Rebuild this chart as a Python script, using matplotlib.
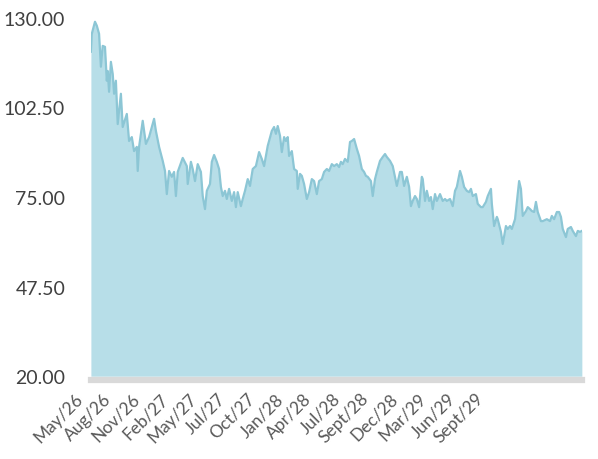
# -*- coding: utf-8 -*-

import numpy as np
import matplotlib
matplotlib.use('Agg')
import matplotlib.pyplot as plt
import matplotlib.transforms as mtransforms

# trading day index and closing value
days = [0, 2, 9, 13, 18, 22, 26, 31, 35, 37, 40, 44, 48, 51, 55, 59, 66, 70, 79, 84,
        90, 95, 101, 103, 106, 114, 121, 128, 139, 143, 150, 158, 163, 167, 172, 178, 183, 187, 191, 202,
        211, 213, 220, 224, 229, 235, 242, 246, 251, 255, 262, 266, 271, 277, 282, 286, 290, 295, 299, 304,
        310, 315, 319, 323, 330, 334, 339, 345, 350, 356, 363, 370, 376, 381, 389, 398, 403, 407, 411, 416,
        420, 425, 429, 433, 436, 442, 447, 453, 455, 460, 464, 469, 475, 480, 486, 491, 497, 502, 508, 513,
        519, 524, 530, 535, 541, 546, 550, 554, 559, 565, 570, 574, 579, 585, 590, 596, 601, 605, 609, 616,
        620, 625, 629, 636, 642, 647, 651, 658, 664, 669, 673, 680, 684, 689, 695, 700, 704, 708, 713, 717,
        722, 728, 730, 735, 739, 744, 748, 752, 757, 761, 768, 774, 779, 783, 790, 796, 801, 805, 812, 816,
        821, 827, 832, 836, 840, 847, 851, 858, 862, 869, 873, 880, 882, 887, 893, 895, 902, 906, 913, 917,
        922, 926, 933, 937, 942, 946, 950, 957, 961, 966, 970, 975, 979, 983, 990, 994, 1003, 1010, 1014, 1019,
        1025, 1030, 1034, 1038, 1045, 1049, 1056, 1060, 1067, 1071, 1076, 1080]
values = [119.6, 125.1, 128.8, 127.6, 125.1, 115.0, 121.4, 121.1, 110.7, 113.7, 107.3, 116.5, 112.8, 106.7, 110.7, 97.4, 106.7, 96.5, 100.5, 92.2,
          93.4, 89.1, 90.4, 83.0, 90.4, 98.4, 91.3, 93.4, 99.0, 95.3, 90.4, 86.1, 83.0, 75.9, 83.0, 81.2, 82.7, 75.3, 82.7, 87.0,
          84.5, 79.0, 85.8, 83.6, 79.9, 85.1, 82.7, 75.3, 71.3, 76.9, 79.0, 85.8, 87.9, 85.8, 83.6, 78.1, 75.3, 76.9, 74.4, 77.5,
          73.8, 76.5, 71.9, 76.5, 72.2, 74.4, 76.9, 80.5, 78.4, 83.6, 84.5, 88.8, 86.7, 84.5, 90.7, 95.3, 96.5, 94.4, 96.8, 93.8,
          88.8, 93.4, 92.2, 93.4, 87.6, 89.1, 83.6, 83.0, 77.5, 82.1, 81.5, 79.0, 74.4, 76.5, 80.5, 79.9, 75.9, 79.9, 80.5, 82.7,
          83.6, 83.0, 85.1, 84.5, 85.1, 84.2, 85.8, 85.1, 86.7, 85.8, 91.9, 92.2, 92.8, 89.8, 87.6, 83.6, 82.7, 81.5, 81.2, 79.9,
          75.3, 80.5, 82.7, 86.1, 87.3, 88.2, 87.3, 86.1, 84.5, 81.2, 78.4, 82.7, 82.7, 78.4, 81.2, 78.1, 72.2, 73.8, 75.3, 74.4,
          71.9, 81.2, 80.5, 73.8, 76.9, 73.8, 75.0, 71.3, 75.9, 73.8, 75.9, 73.8, 74.4, 73.8, 74.4, 72.2, 76.9, 78.1, 83.0, 81.2,
          78.1, 76.9, 76.5, 77.5, 75.3, 75.9, 72.9, 71.9, 71.9, 73.5, 75.3, 77.5, 72.9, 66.1, 68.9, 68.2, 64.3, 60.6, 66.1, 65.2,
          66.1, 65.2, 68.2, 73.5, 79.9, 77.5, 69.2, 70.7, 71.9, 71.3, 70.7, 70.4, 73.5, 70.4, 67.6, 67.6, 68.2, 67.6, 69.2, 68.2,
          70.4, 70.4, 68.9, 65.2, 62.7, 65.2, 65.8, 64.6, 63.0, 64.6, 64.3, 64.6]

tick_days = [0, 63, 126, 189, 252, 315, 378, 441, 504, 567, 630, 693, 756, 819, 882]
tick_labels = ['May/26', 'Aug/26', 'Nov/26', 'Feb/27', 'May/27', 'Jul/27', 'Oct/27', 'Jan/28',
               'Apr/28', 'Jul/28', 'Sept/28', 'Dec/28', 'Mar/29', 'Jun/29', 'Sept/29']
y_ticks = [20, 47.5, 75, 102.5, 130]

plt.rcParams['font.family'] = ['Lato', 'DejaVu Sans']

fig = plt.figure(figsize=(5.98, 4.60), dpi=100)
ax = fig.add_axes([0.152, 0.180, 0.821, 0.779])

ax.fill_between(days, values, 20, color='#b7dee8', lw=0, zorder=2)
ax.plot(days, values, color='#8cc6d5', lw=1.6, zorder=3)

ax.set_xlim(0, 1080)
ax.set_ylim(20, 130)

# spines first - set_position resets the ticks
for s in ['top', 'right', 'left']:
    ax.spines[s].set_visible(False)
ax.spines['bottom'].set_color('#d9d9d9')
ax.spines['bottom'].set_linewidth(4.5)
ax.spines['bottom'].set_position(('outward', 3))
ax.spines['bottom'].set_capstyle('projecting')

ax.tick_params(axis='y', length=0, pad=18.5)
ax.tick_params(axis='x', length=0, pad=11)

ax.set_yticks(y_ticks)
ax.set_yticklabels(['%.2f' % v for v in y_ticks], fontsize=14, color='#404040')

ax.set_xticks(tick_days)
ax.set_xticklabels(tick_labels, fontsize=12.5, color='#595959')
shift = mtransforms.ScaledTranslation(-11 / 100, 0, fig.dpi_scale_trans)
for lbl in ax.get_xticklabels():
    lbl.set_rotation(45)
    lbl.set_ha('right')
    lbl.set_va('center')
    lbl.set_rotation_mode('anchor')
    lbl.set_transform(lbl.get_transform() + shift)

plt.savefig('out.png', dpi=100)
